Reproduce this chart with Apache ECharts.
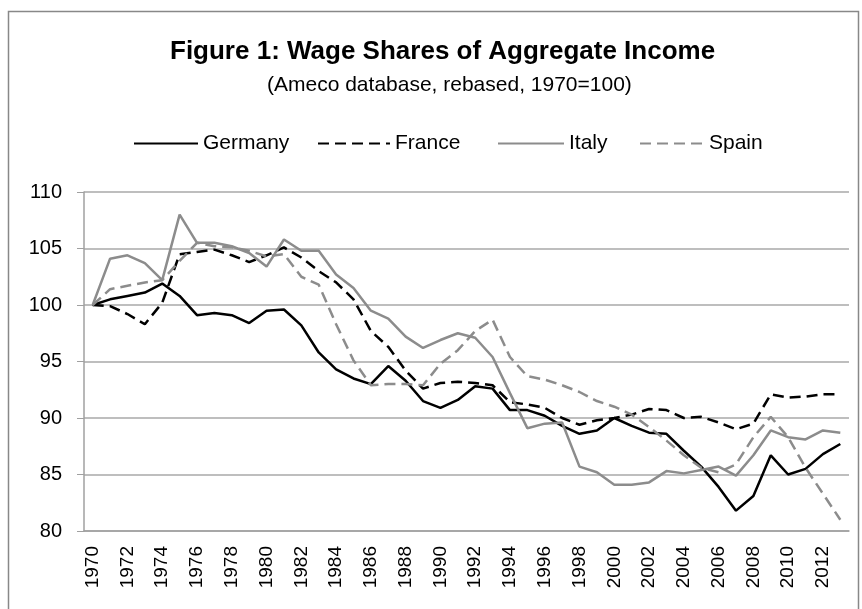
<!DOCTYPE html>
<html>
<head>
<meta charset="utf-8">
<script src="https://cdn.jsdelivr.net/npm/echarts@6/dist/echarts.min.js"></script>
<style>
  html, body { margin: 0; padding: 0; background: #fff; }
  #chart { width: 862px; height: 609px; }
</style>
</head>
<body>
<div id="chart"></div>
<script>
var years = [];
for (var y = 1970; y <= 2013; y++) years.push(String(y));

var germany = [100, 100.5, 100.8, 101.1, 101.9, 100.8, 99.1, 99.3, 99.1, 98.4,
  99.5, 99.6, 98.2, 95.8, 94.3, 93.5, 93.0, 94.6, 93.3, 91.5,
  90.9, 91.6, 92.8, 92.6, 90.7, 90.7, 90.2, 89.3, 88.6, 88.9,
  90.0, 89.3, 88.7, 88.6, 87.1, 85.7, 83.9, 81.8, 83.1, 86.7,
  85.0, 85.5, 86.8, 87.7];
var france = [100, 99.9, 99.2, 98.3, 100.2, 104.5, 104.7, 104.9, 104.4, 103.8,
  104.4, 105.1, 104.2, 103.0, 102.0, 100.5, 97.7, 96.3, 94.2, 92.6,
  93.1, 93.2, 93.1, 92.9, 91.4, 91.2, 90.9, 90.0, 89.4, 89.8,
  90.0, 90.3, 90.8, 90.7, 90.0, 90.1, 89.6, 89.0, 89.5, 92.1,
  91.8, 91.9, 92.1, 92.1];
var italy = [100, 104.1, 104.4, 103.7, 102.2, 108.0, 105.5, 105.5, 105.2, 104.6,
  103.4, 105.8, 104.8, 104.8, 102.7, 101.5, 99.5, 98.8, 97.2, 96.2,
  96.9, 97.5, 97.1, 95.4, 92.2, 89.1, 89.5, 89.6, 85.7, 85.2,
  84.1, 84.1, 84.3, 85.3, 85.1, 85.4, 85.7, 84.9, 86.7, 88.9,
  88.3, 88.1, 88.9, 88.7];
var spain = [100, 101.4, 101.7, 102.0, 102.2, 103.9, 105.5, 105.2, 105.1, 104.8,
  104.3, 104.5, 102.5, 101.8, 98.3, 95.1, 92.9, 93.0, 93.0, 92.9,
  94.8, 96.0, 97.7, 98.7, 95.4, 93.7, 93.4, 92.9, 92.3, 91.5,
  91.0, 90.3, 89.2, 88.0, 86.7, 85.6, 85.2, 85.9, 88.3, 90.1,
  88.3, 85.6, 83.3, 81.0];

var font = "'Liberation Sans', Arial, sans-serif";
var dash = [11, 6];

// one legend per entry so each item can sit where Excel put it
function legendAt(name, left, w) {
  return {
    data: [name], left: left, top: 128,
    itemWidth: w, itemHeight: 14, itemGap: 0,
    itemStyle: { opacity: 0 },
    textStyle: { fontFamily: font, fontSize: 21, color: '#000' }
  };
}

function series(name, data, color, type) {
  return {
    name: name, type: 'line', data: data, symbol: 'none',
    lineStyle: { color: color, width: 2.5, type: type },
    itemStyle: { color: color }
  };
}

var chart = echarts.init(document.getElementById('chart'));
chart.setOption({
  animation: false,
  title: [
    { text: 'Figure 1: Wage Shares of Aggregate Income', left: 165, top: 34,
      textStyle: { fontFamily: font, fontSize: 26, fontWeight: 'bold', color: '#000' } },
    { text: '(Ameco database, rebased, 1970=100)', left: 262, top: 70,
      textStyle: { fontFamily: font, fontSize: 21, fontWeight: 'normal', color: '#000' } }
  ],
  legend: [
    legendAt('Germany', 128, 64),
    legendAt('France', 312, 72),
    legendAt('Italy', 492, 66),
    legendAt('Spain', 634, 64)
  ],
  graphic: [{
    type: 'rect', left: 6, top: 9, silent: true,
    shape: { width: 850, height: 610 },
    style: { fill: 'none', stroke: '#888', lineWidth: 1.5 }
  }],
  grid: { left: 84, right: 13, top: 192, bottom: 78 },
  xAxis: {
    type: 'category', data: years, boundaryGap: true,
    axisLine: { lineStyle: { color: '#a0a0a0', width: 1.5 } },
    axisTick: { interval: 0, length: 8, lineStyle: { color: '#a0a0a0' } },
    axisLabel: { interval: 1, rotate: 90, margin: 15, fontFamily: font, fontSize: 19, color: '#000' }
  },
  yAxis: {
    type: 'value', min: 80, max: 110, interval: 5,
    axisLine: { show: true, lineStyle: { color: '#a0a0a0', width: 1.5 } },
    axisTick: { show: true, length: 7, lineStyle: { color: '#a0a0a0' } },
    splitLine: { lineStyle: { color: '#a8a8a8', width: 1.5 } },
    axisLabel: { margin: 22, fontFamily: font, fontSize: 20, color: '#000' }
  },
  series: [
    series('Germany', germany, '#000', 'solid'),
    series('France', france, '#000', dash),
    series('Italy', italy, '#8c8c8c', 'solid'),
    series('Spain', spain, '#8c8c8c', dash)
  ]
});
</script>
</body>
</html>
